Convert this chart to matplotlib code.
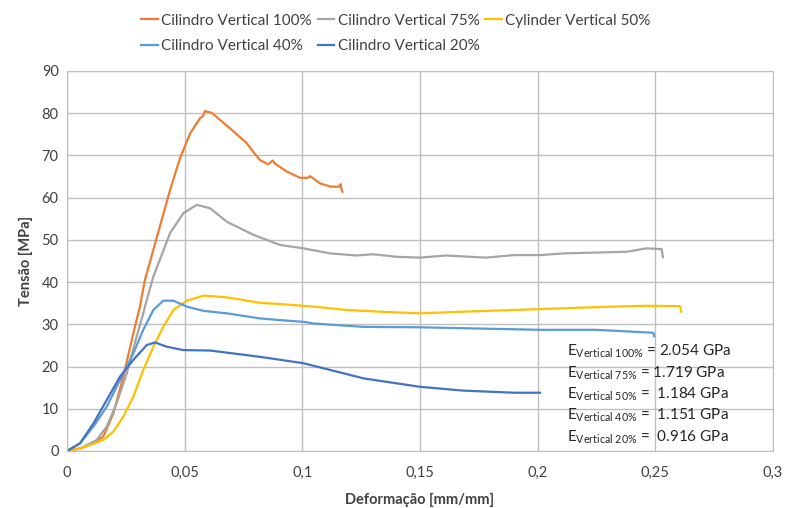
import matplotlib
matplotlib.use('Agg')
import matplotlib.pyplot as plt

plt.rcParams['font.family'] = ['Lato', 'DejaVu Sans']
plt.rcParams['mathtext.fontset'] = 'custom'
plt.rcParams['mathtext.rm'] = 'Lato'
plt.rcParams['mathtext.it'] = 'Lato'

# curvas tensao x deformacao
x100 = [0, 0.0055, 0.0112, 0.0154, 0.0197, 0.0239, 0.0282, 0.031, 0.0331, 0.0438, 0.048,
        0.0523, 0.0565, 0.0578, 0.0586, 0.0615, 0.0693, 0.0764, 0.0785, 0.082, 0.0855,
        0.0874, 0.0885, 0.0934, 0.099, 0.1025, 0.1033, 0.1075, 0.112, 0.1155, 0.1163,
        0.1165, 0.117]
y100 = [0, 0.6, 1.8, 3.4, 8.9, 17.6, 27.9, 34.2, 40.5, 61.8, 69.3,
        75.2, 78.8, 79.3, 80.5, 80.1, 76.4, 72.9, 71.3, 68.9, 67.9,
        68.8, 68.0, 66.2, 64.7, 64.7, 65.1, 63.4, 62.6, 62.6, 63.2,
        62.3, 61.4]

x75 = [0, 0.0055, 0.0098, 0.0126, 0.0169, 0.0211, 0.0254, 0.0296, 0.0324, 0.0339, 0.0367,
       0.0438, 0.0494, 0.0551, 0.0608, 0.0679, 0.0792, 0.0905, 0.1004, 0.1118, 0.123,
       0.130, 0.140, 0.150, 0.161, 0.178, 0.190, 0.201, 0.211, 0.225, 0.238, 0.2463,
       0.2527, 0.2532]
y75 = [0, 0.6, 1.8, 2.6, 5.8, 11.3, 18.4, 27.1, 32.6, 35.8, 41.3,
       51.6, 56.3, 58.3, 57.5, 54.3, 51.2, 48.8, 48.0, 46.8, 46.3,
       46.6, 46.0, 45.8, 46.3, 45.8, 46.4, 46.4, 46.8, 47.0, 47.2, 48.0,
       47.8, 45.9]

x50 = [0, 0.0055, 0.0112, 0.0154, 0.0197, 0.0239, 0.0282, 0.0324, 0.0367, 0.0409, 0.0452,
       0.0509, 0.0579, 0.0679, 0.082, 0.0905, 0.1047, 0.1189, 0.133, 0.150, 0.1684,
       0.190, 0.211, 0.232, 0.2463, 0.2605, 0.261]
y50 = [0, 0.6, 1.7, 2.6, 4.6, 8.1, 12.9, 19.2, 24.7, 29.4, 33.4,
       35.6, 36.8, 36.4, 35.1, 34.8, 34.2, 33.4, 33.0, 32.6, 33.0,
       33.4, 33.8, 34.2, 34.4, 34.3, 33.0]

x40 = [0, 0.0055, 0.0112, 0.0169, 0.0225, 0.0282, 0.0324, 0.0367, 0.0409, 0.0452, 0.0509,
       0.0579, 0.0679, 0.082, 0.0905, 0.1004, 0.1047, 0.126, 0.150, 0.1755, 0.201, 0.225,
       0.2491, 0.2495]
y40 = [0, 1.8, 5.8, 10.5, 16.8, 23.1, 28.7, 33.4, 35.6, 35.6, 34.2,
       33.2, 32.6, 31.4, 31.0, 30.6, 30.2, 29.4, 29.3, 29.0, 28.7, 28.7,
       28.0, 27.2]

x20 = [0, 0.0055, 0.0112, 0.0169, 0.0225, 0.0282, 0.0339, 0.0374, 0.0424, 0.0494, 0.0608,
       0.082, 0.1004, 0.1118, 0.126, 0.150, 0.1684, 0.190, 0.201]
y20 = [0, 1.8, 6.5, 12.1, 17.6, 21.6, 25.1, 25.7, 24.7, 23.9, 23.8,
       22.3, 20.8, 19.2, 17.2, 15.2, 14.3, 13.8, 13.8]

labels = ['Cilindro Vertical 100%', 'Cilindro Vertical 75%', 'Cylinder Vertical 50%',
          'Cilindro Vertical 40%', 'Cilindro Vertical 20%']
cores = ['#ED7D31', '#A5A5A5', '#FFC000', '#5B9BD5', '#4472C4']

mod_nomes = ['100%', '75%', '50%', '40%', '20%']
mod_vals = ['= 2.054 GPa', '= 1.719 GPa', '=  1.184 GPa', '=  1.151 GPa', '=  0.916 GPa']

xticks = [0, 0.05, 0.1, 0.15, 0.2, 0.25, 0.3]
xticklabels = ['0', '0,05', '0,1', '0,15', '0,2', '0,25', '0,3']
yticks = list(range(0, 91, 10))

fig = plt.figure(figsize=(7.87, 5.08), dpi=100)
ax = fig.add_axes([67/787, 1-451/508, (773-67)/787, (451-71)/508])

series = [(x100, y100), (x75, y75), (x50, y50), (x40, y40), (x20, y20)]
handles = []
for (xs, ys), lab, c in zip(series, labels, cores):
    h, = ax.plot(xs, ys, color=c, lw=1.6, label=lab)
    handles.append(h)

ax.set_xlim(0, 0.3)
ax.set_ylim(0, 90)
ax.set_xticks(xticks)
ax.set_xticklabels(xticklabels)
ax.set_yticks(yticks)
ax.grid(True, color='#BFBFBF', lw=1)
ax.set_axisbelow(True)
for s in ax.spines.values():
    s.set_color('#BFBFBF')
ax.tick_params(length=0, labelsize=10.5, colors='#404040')
ax.tick_params(axis='x', pad=11)
ax.tick_params(axis='y', pad=6)
ax.set_xlabel('Deformação [mm/mm]', fontsize=10.5, fontweight='bold', color='#404040', labelpad=9)
ax.set_ylabel('Tensão [MPa]', fontsize=10.5, fontweight='bold', color='#404040', labelpad=6)

# modulos de elasticidade
for i, (n, v) in enumerate(zip(mod_nomes, mod_vals)):
    ypx = 356 + 21.3 * i
    fig.text(567/787, 1 - ypx/508,
             r'E$_{\mathrm{Vertical\ ' + n.replace('%', r'\%') + r'}}$ ' + v,
             fontsize=11, color='#262626', va='baseline', ha='left')

ordem = [0, 3, 1, 4, 2]
fig.legend([handles[i] for i in ordem], [labels[i] for i in ordem], ncol=3,
           loc='upper center', bbox_to_anchor=(0.503, 1.0), frameon=False,
           fontsize=11, handlelength=1.1, handletextpad=0.2, columnspacing=0.4,
           labelspacing=0.75, labelcolor='#404040')

fig.savefig('out.png', dpi=100)
